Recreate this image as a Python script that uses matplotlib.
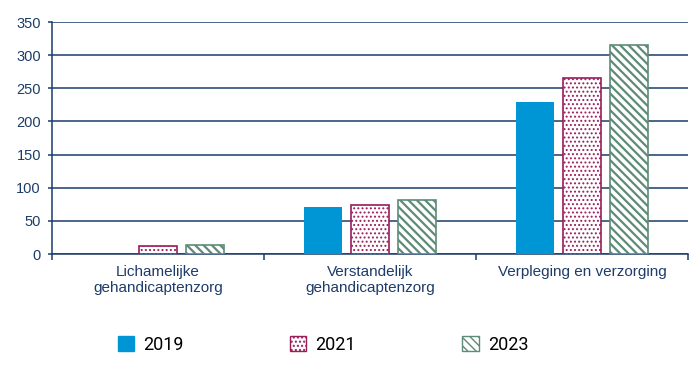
import matplotlib
matplotlib.use("Agg")
import matplotlib.pyplot as plt
import numpy as np
from matplotlib.patches import Patch

categories = ["Lichamelijke\ngehandicaptenzorg", "Verstandelijk\ngehandicaptenzorg", "Verpleging en verzorging"]
years = ["2019", "2021", "2023"]
values_2019 = [np.nan, 71, 230]
values_2021 = [12, 74, 265]
values_2023 = [14, 81, 315]

NAVY = "#1d3c6a"
BLUE = "#0096d6"
MAGENTA = "#9b1d5c"
GREEN = "#5e8b78"
DOTS = "...."
STRIPES = "\\" * 4

plt.rcParams["font.family"] = ["Liberation Sans", "DejaVu Sans"]

fig = plt.figure(figsize=(6.99, 3.67), dpi=100)
ax = fig.add_axes([52 / 699, 1 - 254 / 367, 636 / 699, 232 / 367])

x = np.arange(len(categories))
w = 0.18
step = 0.222

ax.bar(x - step, values_2019, w, color=BLUE, zorder=3)
with plt.rc_context({"hatch.linewidth": 0.9}):
    ax.bar(x, values_2021, w, facecolor="white", edgecolor=MAGENTA, hatch=DOTS, linewidth=1.2, zorder=3)
    dot_handle = Patch(facecolor="white", edgecolor=MAGENTA, hatch=DOTS)
with plt.rc_context({"hatch.linewidth": 1.6}):
    ax.bar(x + step, values_2023, w, facecolor="white", edgecolor=GREEN, hatch=STRIPES, linewidth=1.2, zorder=3)
    stripe_handle = Patch(facecolor="white", edgecolor=GREEN, hatch=STRIPES)

ax.set_xlim(-0.5, 2.5)
ax.set_ylim(0, 350)
ax.set_yticks(np.arange(0, 351, 50))
ax.yaxis.grid(True, color=NAVY, linewidth=1.1, zorder=0)
ax.set_axisbelow(True)

for s in ["top", "right"]:
    ax.spines[s].set_visible(False)
for s in ["left", "bottom"]:
    ax.spines[s].set_color(NAVY)
    ax.spines[s].set_linewidth(1.1)

ax.set_xticks(x)
ax.set_xticklabels(categories, fontsize=11, color=NAVY, linespacing=1.2)
ax.set_xticks([-0.5, 0.5, 1.5, 2.5], minor=True)
ax.tick_params(axis="x", which="major", length=0, pad=8)
ax.tick_params(axis="x", which="minor", length=4, color=NAVY, width=1.1)
ax.tick_params(axis="y", length=3, color=NAVY, width=1.1, labelsize=10.5, labelcolor=NAVY, pad=5)

handles = [Patch(facecolor=BLUE, edgecolor=BLUE), dot_handle, stripe_handle]
fig.legend(handles, years, loc="center", bbox_to_anchor=(0.462, 1 - 345 / 367), ncol=3,
           frameon=False, prop={"family": "Roboto", "size": 13},
           handlelength=0.9, handleheight=0.9, handletextpad=0.5, columnspacing=5.9)

fig.savefig("out.png", dpi=100)
